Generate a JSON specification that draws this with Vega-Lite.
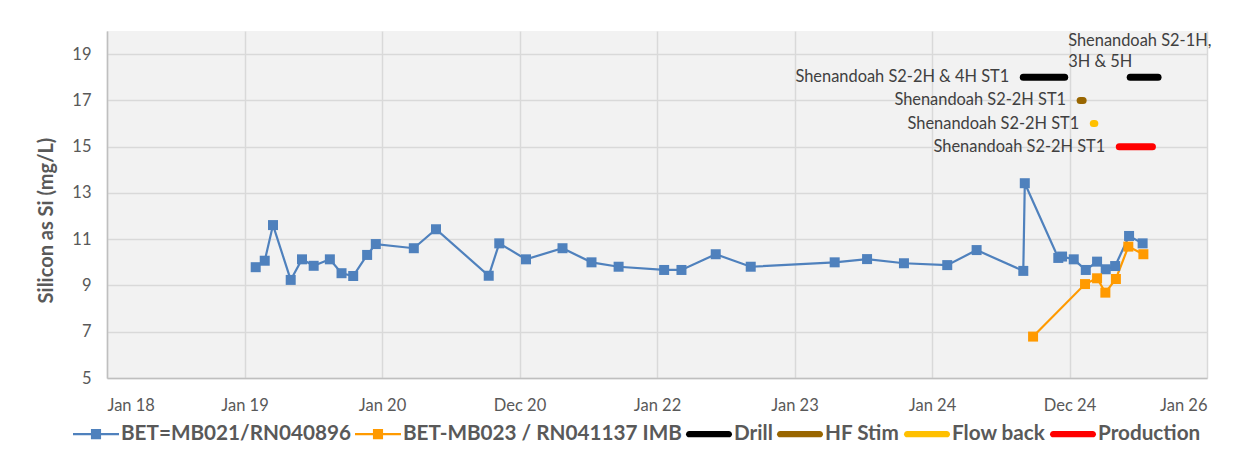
{
  "$schema": "https://vega.github.io/schema/vega-lite/v6.json",
  "width": 1100,
  "height": 347,
  "autosize": {"type": "none"},
  "padding": {"left": 107, "top": 31, "right": 48, "bottom": 88},
  "background": "white",
  "config": {
    "view": {"fill": "#F2F2F2", "stroke": null},
    "font": "Lato",
    "axis": {
      "labelFont": "Lato",
      "labelFontSize": 16.5,
      "labelColor": "#595959",
      "ticks": false,
      "domainColor": "#BFBFBF",
      "domainWidth": 1.5,
      "gridColor": "#D9D9D9",
      "gridWidth": 1.5,
      "grid": true
    }
  },
  "datasets": {
    "obs": [
      {"series": "BET=MB021/RN040896", "date": "2019-01-31", "value": 9.79},
      {"series": "BET=MB021/RN040896", "date": "2019-02-24", "value": 10.07},
      {"series": "BET=MB021/RN040896", "date": "2019-03-18", "value": 11.61},
      {"series": "BET=MB021/RN040896", "date": "2019-05-04", "value": 9.24},
      {"series": "BET=MB021/RN040896", "date": "2019-06-03", "value": 10.13},
      {"series": "BET=MB021/RN040896", "date": "2019-07-04", "value": 9.85},
      {"series": "BET=MB021/RN040896", "date": "2019-08-16", "value": 10.13},
      {"series": "BET=MB021/RN040896", "date": "2019-09-16", "value": 9.53},
      {"series": "BET=MB021/RN040896", "date": "2019-10-17", "value": 9.41},
      {"series": "BET=MB021/RN040896", "date": "2019-11-23", "value": 10.32},
      {"series": "BET=MB021/RN040896", "date": "2019-12-16", "value": 10.79},
      {"series": "BET=MB021/RN040896", "date": "2020-03-26", "value": 10.61},
      {"series": "BET=MB021/RN040896", "date": "2020-05-24", "value": 11.43},
      {"series": "BET=MB021/RN040896", "date": "2020-10-11", "value": 9.42},
      {"series": "BET=MB021/RN040896", "date": "2020-11-08", "value": 10.82},
      {"series": "BET=MB021/RN040896", "date": "2021-01-18", "value": 10.13},
      {"series": "BET=MB021/RN040896", "date": "2021-04-25", "value": 10.61},
      {"series": "BET=MB021/RN040896", "date": "2021-07-11", "value": 10.0},
      {"series": "BET=MB021/RN040896", "date": "2021-09-21", "value": 9.81},
      {"series": "BET=MB021/RN040896", "date": "2022-01-20", "value": 9.67},
      {"series": "BET=MB021/RN040896", "date": "2022-03-07", "value": 9.67},
      {"series": "BET=MB021/RN040896", "date": "2022-06-06", "value": 10.35},
      {"series": "BET=MB021/RN040896", "date": "2022-09-07", "value": 9.81},
      {"series": "BET=MB021/RN040896", "date": "2023-04-18", "value": 10.0},
      {"series": "BET=MB021/RN040896", "date": "2023-07-13", "value": 10.14},
      {"series": "BET=MB021/RN040896", "date": "2023-10-19", "value": 9.96},
      {"series": "BET=MB021/RN040896", "date": "2024-02-11", "value": 9.88},
      {"series": "BET=MB021/RN040896", "date": "2024-04-29", "value": 10.53},
      {"series": "BET=MB021/RN040896", "date": "2024-08-31", "value": 9.63},
      {"series": "BET=MB021/RN040896", "date": "2024-09-04", "value": 13.42},
      {"series": "BET=MB021/RN040896", "date": "2024-12-02", "value": 10.19},
      {"series": "BET=MB021/RN040896", "date": "2024-12-12", "value": 10.25},
      {"series": "BET=MB021/RN040896", "date": "2025-01-12", "value": 10.13},
      {"series": "BET=MB021/RN040896", "date": "2025-02-13", "value": 9.67},
      {"series": "BET=MB021/RN040896", "date": "2025-03-15", "value": 10.03},
      {"series": "BET=MB021/RN040896", "date": "2025-04-07", "value": 9.7},
      {"series": "BET=MB021/RN040896", "date": "2025-05-02", "value": 9.84},
      {"series": "BET=MB021/RN040896", "date": "2025-06-08", "value": 11.14},
      {"series": "BET=MB021/RN040896", "date": "2025-07-14", "value": 10.82},
      {"series": "BET-MB023 / RN041137 IMB", "date": "2024-09-26", "value": 6.79},
      {"series": "BET-MB023 / RN041137 IMB", "date": "2025-02-11", "value": 9.06},
      {"series": "BET-MB023 / RN041137 IMB", "date": "2025-03-15", "value": 9.31},
      {"series": "BET-MB023 / RN041137 IMB", "date": "2025-04-06", "value": 8.69},
      {"series": "BET-MB023 / RN041137 IMB", "date": "2025-05-04", "value": 9.28},
      {"series": "BET-MB023 / RN041137 IMB", "date": "2025-06-06", "value": 10.68},
      {"series": "BET-MB023 / RN041137 IMB", "date": "2025-07-16", "value": 10.35}
    ],
    "gantt": [
      {"series": "Drill", "start": "2024-08-31", "end": "2024-12-19", "value": 18, "label": "Shenandoah S2-2H & 4H ST1"},
      {"series": "Drill", "start": "2025-06-11", "end": "2025-08-24", "value": 18, "label": "Shenandoah S2-1H,\n3H & 5H"},
      {"series": "HF Stim", "start": "2025-01-29", "end": "2025-02-06", "value": 17, "label": "Shenandoah S2-2H ST1"},
      {"series": "Flow back", "start": "2025-03-05", "end": "2025-03-09", "value": 16, "label": "Shenandoah S2-2H ST1"},
      {"series": "Production", "start": "2025-05-13", "end": "2025-08-09", "value": 15, "label": "Shenandoah S2-2H ST1"}
    ]
  },
  "encoding": {
    "y": {
      "field": "value",
      "type": "quantitative",
      "scale": {"domain": [5, 20], "nice": false, "zero": false},
      "axis": {
        "values": [5, 7, 9, 11, 13, 15, 17, 19],
        "title": "Silicon as Si (mg/L)",
        "titleFont": "Lato",
        "titleFontSize": 20,
        "titleFontWeight": "bold",
        "titleColor": "#595959",
        "titlePadding": 15,
        "titleY": 189,
        "labelPadding": 16
      }
    }
  },
  "layer": [
    {
      "data": {"name": "obs"},
      "mark": {"type": "line", "strokeWidth": 2.2},
      "encoding": {
        "x": {
          "field": "date",
          "type": "temporal",
          "scale": {
            "type": "utc",
            "domain": [
              {"year": 2018, "month": 1, "date": 1, "utc": true},
              {"year": 2026, "month": 1, "date": 1, "utc": true}
            ]
          },
          "axis": {
            "title": null,
            "format": "%b %y",
            "labelPadding": 19,
            "values": [
              {"year": 2018, "month": 1, "date": 1, "utc": true},
              {"year": 2019, "month": 1, "date": 1, "hours": 6, "utc": true},
              {"year": 2020, "month": 1, "date": 1, "hours": 12, "utc": true},
              {"year": 2020, "month": 12, "date": 31, "hours": 18, "utc": true},
              {"year": 2022, "month": 1, "date": 1, "utc": true},
              {"year": 2023, "month": 1, "date": 1, "hours": 6, "utc": true},
              {"year": 2024, "month": 1, "date": 1, "hours": 12, "utc": true},
              {"year": 2024, "month": 12, "date": 31, "hours": 18, "utc": true},
              {"year": 2026, "month": 1, "date": 1, "utc": true}
            ]
          }
        },
        "color": {
          "field": "series",
          "type": "nominal",
          "scale": {
            "domain": ["BET=MB021/RN040896", "BET-MB023 / RN041137 IMB", "Drill", "HF Stim", "Flow back", "Production"],
            "range": ["#4F81BD", "#FF9A00", "#000000", "#996600", "#FFC000", "#FF0000"]
          },
          "legend": {
            "title": null,
            "orient": "none",
            "legendX": -34,
            "legendY": 380,
            "direction": "horizontal",
            "columns": 6,
            "symbolSize": 2116,
            "labelFont": "Lato",
            "labelFontSize": 20.7,
            "labelFontWeight": "bold",
            "labelColor": "#595959",
            "labelLimit": 500,
            "labelOffset": 2,
            "columnPadding": 4,
            "encode": {
              "symbols": {
                "update": {
                  "shape": {"signal": "indexof(datum.value, 'BET') === 0 ? 'M-1,-0.045H1V0.045H-1Z M-0.22,-0.22H0.22V0.22H-0.22Z' : 'M-0.86,-0.14H0.86A0.14,0.14 0 0 1 0.86,0.14H-0.86A0.14,0.14 0 0 1 -0.86,-0.14Z'"},
                  "fill": {"scale": "color", "field": "value"},
                  "stroke": {"value": "transparent"},
                  "strokeWidth": {"value": 0}
                }
              }
            }
          }
        }
      }
    },
    {
      "data": {"name": "obs"},
      "mark": {"type": "point", "shape": "square", "filled": true, "opacity": 1, "size": 100},
      "encoding": {
        "x": {"field": "date", "type": "temporal"},
        "color": {"field": "series", "type": "nominal"}
      }
    },
    {
      "data": {"name": "gantt"},
      "mark": {"type": "rule", "strokeWidth": 7, "strokeCap": "round"},
      "encoding": {
        "x": {"field": "start", "type": "temporal"},
        "x2": {"field": "end"},
        "color": {"field": "series", "type": "nominal"}
      }
    },
    {
      "data": {"name": "gantt"},
      "transform": [{"filter": "indexof(datum.label, 'S2-1H') < 0"}],
      "mark": {"type": "text", "align": "right", "baseline": "middle", "dx": -14, "font": "Lato", "fontSize": 16.4, "color": "#404040"},
      "encoding": {
        "x": {"field": "start", "type": "temporal"},
        "text": {"field": "label"}
      }
    },
    {
      "data": {"name": "gantt"},
      "transform": [{"filter": "indexof(datum.label, 'S2-1H') >= 0"}],
      "mark": {"type": "text", "align": "left", "baseline": "middle", "dx": -62, "dy": -36, "lineBreak": "\n", "lineHeight": 21, "font": "Lato", "fontSize": 16.4, "color": "#404040"},
      "encoding": {
        "x": {"field": "start", "type": "temporal"},
        "text": {"field": "label"}
      }
    }
  ]
}
